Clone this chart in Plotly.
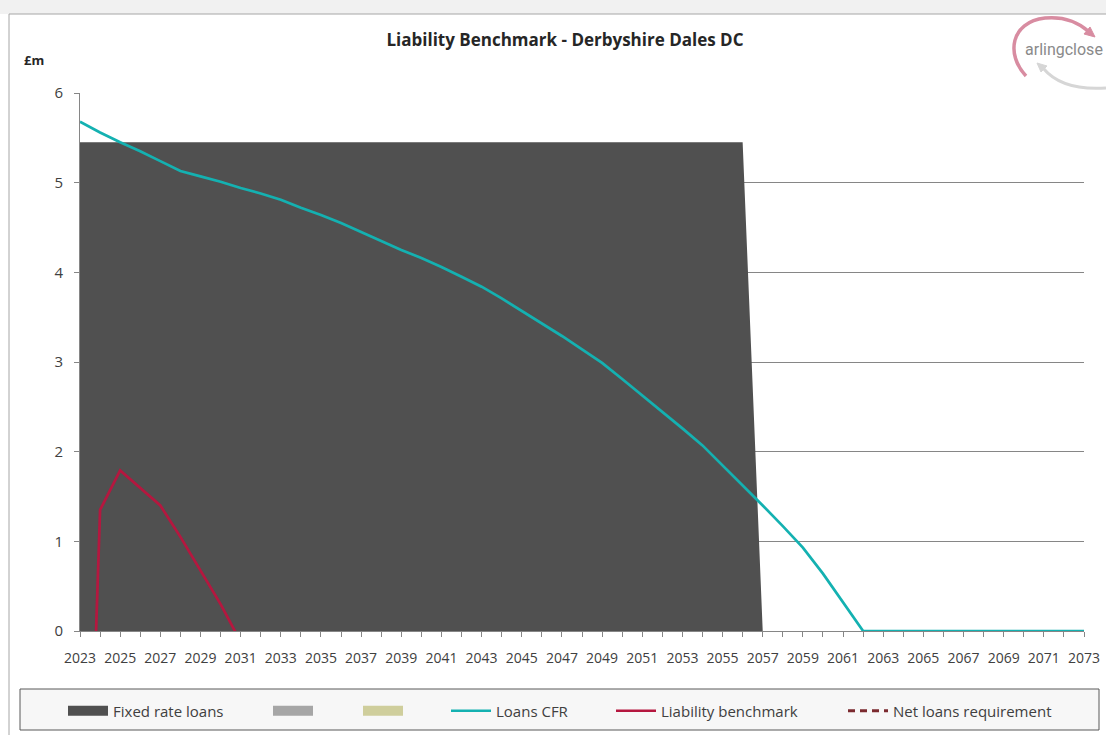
import plotly.graph_objects as go

# ---------------- data ----------------
years = list(range(2023, 2074))

fixed_rate_loans = [5.45, 5.45, 5.45, 5.45, 5.45, 5.45, 5.45, 5.45, 5.45, 5.45,
                    5.45, 5.45, 5.45, 5.45, 5.45, 5.45, 5.45, 5.45, 5.45, 5.45,
                    5.45, 5.45, 5.45, 5.45, 5.45, 5.45, 5.45, 5.45, 5.45, 5.45,
                    5.45, 5.45, 5.45, 5.45, 0, 0, 0, 0, 0, 0,
                    0, 0, 0, 0, 0, 0, 0, 0, 0, 0, 0]

# two unnamed series that never show above zero in the chart
series_grey = [None] * 51
series_khaki = [None] * 51

loans_cfr = [5.68, 5.56, 5.45, 5.35, 5.24, 5.13, 5.07, 5.01, 4.94, 4.88,
             4.81, 4.72, 4.64, 4.55, 4.45, 4.35, 4.25, 4.16, 4.06, 3.95,
             3.84, 3.71, 3.57, 3.43, 3.29, 3.14, 2.99, 2.81, 2.63, 2.45,
             2.26, 2.07, 1.85, 1.63, 1.40, 1.17, 0.93, 0.64, 0.32, 0,
             0, 0, 0, 0, 0, 0, 0, 0, 0, 0, 0]

liability_benchmark = [-5.4, 1.35, 1.79, 1.60, 1.40, 1.05, 0.68, 0.30, -0.12] + [None] * 42

net_loans_requirement = [None] * 51

y_ticks = [0, 1, 2, 3, 4, 5, 6]
x_tick_vals = list(range(2023, 2074, 2))
x_tick_labels = [str(y) for y in x_tick_vals]

# ---------------- layout helpers ----------------
W, H = 1106, 735
L, R, T, B = 80, 1084, 93, 631
PW, PH = R - L, B - T


def fx(px):
    return (px - L) / PW


def fy(py):
    return (B - py) / PH


FONT = "Open Sans, Liberation Sans, sans-serif"
AX = "#868686"
TXT = "#404040"

fig = go.Figure()

# area (legend shown through a swatch-style entry in the same group)
fig.add_trace(go.Scatter(x=years, y=fixed_rate_loans, name="Fixed rate loans",
                         mode="lines", fill="tozeroy", fillcolor="#505050",
                         line=dict(width=0, color="#505050"), legendgroup="frl",
                         showlegend=False))
fig.add_trace(go.Scatter(x=years, y=[None] * 51, name="Fixed rate loans", mode="lines",
                         line=dict(width=10, color="#505050"), legendgroup="frl",
                         legend="legend", showlegend=True))
fig.add_trace(go.Scatter(x=years, y=series_grey, name="", mode="lines",
                         line=dict(width=10, color="#a6a6a6"), legend="legend2",
                         showlegend=True))
fig.add_trace(go.Scatter(x=years, y=series_khaki, name="", mode="lines",
                         line=dict(width=10, color="#cfce9c"), legend="legend3",
                         showlegend=True))
fig.add_trace(go.Scatter(x=years, y=loans_cfr, name="Loans CFR", mode="lines",
                         line=dict(width=2.7, color="#14b1b1"), legend="legend4",
                         showlegend=True))
fig.add_trace(go.Scatter(x=years, y=liability_benchmark, name="Liability benchmark",
                         mode="lines", line=dict(width=2.7, color="#b5173f"),
                         legend="legend5", showlegend=True))
fig.add_trace(go.Scatter(x=years, y=net_loans_requirement, name="Net loans requirement",
                         mode="lines", line=dict(width=3, color="#7b2a2f", dash="7px,5px"),
                         legend="legend6", showlegend=True))

legend_common = dict(orientation="v", bgcolor="rgba(0,0,0,0)", borderwidth=0,
                     font=dict(family=FONT, size=15, color=TXT),
                     yanchor="middle", xanchor="left", itemwidth=40,
                     y=fy(711), visible=True)
legend_x = [63, 268, 358, 446, 611, 843]
legend_keys = ["legend", "legend2", "legend3", "legend4", "legend5", "legend6"]

shapes = [
    # top strip
    dict(type="rect", xref="paper", yref="paper", x0=fx(0), x1=fx(W), y0=fy(0), y1=fy(14),
         fillcolor="#f1f1f1", line=dict(width=0), layer="below"),
    dict(type="line", xref="paper", yref="paper", x0=fx(9), x1=fx(W), y0=fy(14), y1=fy(14),
         line=dict(color="#a6a6a6", width=1)),
    dict(type="line", xref="paper", yref="paper", x0=fx(9), x1=fx(9), y0=fy(14), y1=fy(H),
         line=dict(color="#a6a6a6", width=1)),
    # legend box
    dict(type="rect", xref="paper", yref="paper", x0=fx(20), x1=fx(1099), y0=fy(689), y1=fy(730),
         fillcolor="#f7f7f7", line=dict(color="#595959", width=1), layer="below"),
]


def path(points_cmds):
    out = []
    for cmd, pts in points_cmds:
        coords = " ".join(f"{fx(px):.5f},{fy(py):.5f}" for px, py in pts)
        out.append(f"{cmd}{coords}")
    return " ".join(out)


# logo arcs
PINK = "#d88ca1"
GREY_ARC = "#d6d6d6"
shapes.append(dict(type="path", xref="paper", yref="paper",
                   path=path([("M", [(1026, 76)]), ("C", [(1006, 55), (1010, 22), (1045, 18)]),
                              ("C", [(1066, 16), (1080, 24), (1088, 31)])]),
                   line=dict(color=PINK, width=3.5)))
shapes.append(dict(type="path", xref="paper", yref="paper",
                   path=path([("M", [(1095, 37)]), ("L", [(1084, 34)]), ("L", [(1090, 27)]), ("Z", [])]),
                   fillcolor=PINK, line=dict(color=PINK, width=1)))
shapes.append(dict(type="path", xref="paper", yref="paper",
                   path=path([("M", [(1043, 68)]), ("Q", [(1062, 91), (1106, 88)])]),
                   line=dict(color=GREY_ARC, width=3)))
shapes.append(dict(type="path", xref="paper", yref="paper",
                   path=path([("M", [(1037, 63)]), ("L", [(1047, 66)]), ("L", [(1041, 72)]), ("Z", [])]),
                   fillcolor=GREY_ARC, line=dict(color=GREY_ARC, width=1)))

annotations = [
    dict(text="<b>£m</b>", xref="paper", yref="paper", x=fx(34), y=fy(60),
         xanchor="center", yanchor="middle", showarrow=False,
         font=dict(family=FONT, size=13, color="#262626")),
    dict(text="arlingclose", xref="paper", yref="paper", x=fx(1105), y=fy(50),
         xanchor="right", yanchor="middle", showarrow=False,
         font=dict(family="Roboto, sans-serif", size=16, color="#8a8a8a")),
]

layout_legends = {}
for key, px in zip(legend_keys, legend_x):
    d = dict(legend_common)
    d["x"] = fx(px)
    layout_legends[key] = d

fig.update_layout(
    width=W, height=H, showlegend=True,
    margin=dict(l=L, r=W - R, t=T, b=H - B, autoexpand=False),
    paper_bgcolor="white", plot_bgcolor="white",
    title=dict(text="Liability Benchmark - Derbyshire Dales DC", xref="container",
               x=565 / W, y=1 - 40 / H, xanchor="center", yanchor="middle",
               font=dict(family=FONT, size=17, color="#262626", weight="bold")),
    xaxis=dict(range=[2023, 2073], tickmode="array", tickvals=x_tick_vals,
               ticktext=x_tick_labels, ticks="outside", ticklen=5, tickcolor=AX,
               showline=True, linecolor=AX, linewidth=1, showgrid=False, zeroline=False,
               tickfont=dict(family=FONT, size=14, color=TXT), ticklabelstandoff=9,
               minor=dict(dtick=1, tick0=2023, ticks="outside", ticklen=5, tickcolor=AX, showgrid=False)),
    yaxis=dict(range=[0, 6], tickvals=y_ticks, ticks="outside", ticklen=5, tickcolor=AX,
               showline=True, linecolor=AX, linewidth=1, showgrid=True, gridcolor=AX, gridwidth=1,
               zeroline=False, tickfont=dict(family=FONT, size=15, color=TXT), ticklabelstandoff=8),
    shapes=shapes, annotations=annotations,
    **layout_legends,
)

fig.write_html("out.html")
